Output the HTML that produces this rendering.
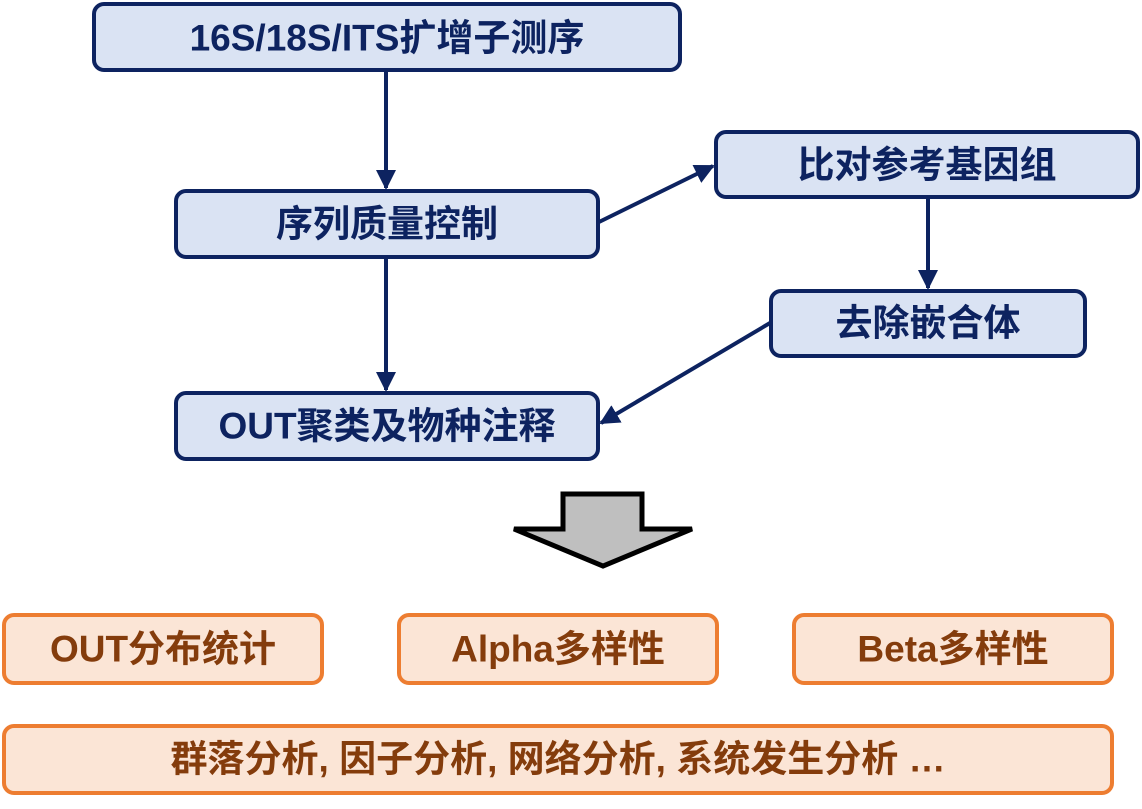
<!DOCTYPE html>
<html><head><meta charset="utf-8"><style>
body{margin:0;background:#fff}
svg text{font-family:"Liberation Sans","Noto Sans CJK SC",sans-serif;font-weight:bold;text-anchor:middle;dominant-baseline:central}
</style></head><body>
<svg width="1142" height="804" viewBox="0 0 1142 804" xmlns="http://www.w3.org/2000/svg">
<defs><marker id="a" viewBox="0 0 10 10" refX="9" refY="5" markerWidth="5" markerHeight="5" orient="auto-start-reverse"><path d="M0,0L10,5L0,10z" fill="#0d2360"/></marker></defs>
<g fill="#dae3f3" stroke="#0d2360" stroke-width="4">
<rect x="94" y="4" width="586" height="66" rx="10"/>
<rect x="176" y="191" width="422" height="66" rx="10"/>
<rect x="716" y="132" width="422" height="65" rx="10"/>
<rect x="771" y="291" width="314" height="65" rx="10"/>
<rect x="176" y="393" width="422" height="66" rx="10"/>
</g>
<g stroke="#0d2360" stroke-width="4" fill="none" marker-end="url(#a)">
<line x1="386" y1="70" x2="386" y2="188"/>
<line x1="386" y1="257" x2="386" y2="390"/>
<line x1="599" y1="222" x2="713" y2="166"/>
<line x1="928" y1="197" x2="928" y2="288"/>
<line x1="770" y1="323" x2="601" y2="423"/>
</g>
<g fill="#0d2360" font-size="37">
<text x="387" y="38">16S/18S/ITS扩增子测序</text>
<text x="387" y="224">序列质量控制</text>
<text x="927" y="165">比对参考基因组</text>
<text x="928" y="323">去除嵌合体</text>
<text x="387" y="426">OUT聚类及物种注释</text>
</g>
<path d="M563,494H642V529H692L603,566L514,529H563Z" fill="#bfbfbf" stroke="#000" stroke-width="5"/>
<g fill="#fbe5d6" stroke="#ed7d31" stroke-width="4">
<rect x="4" y="615" width="318" height="68" rx="10"/>
<rect x="399" y="615" width="318" height="68" rx="10"/>
<rect x="794" y="615" width="318" height="68" rx="10"/>
<rect x="4" y="726" width="1108" height="67" rx="10"/>
</g>
<g fill="#843c0c" font-size="37">
<text x="163" y="649">OUT分布统计</text>
<text x="558" y="649">Alpha多样性</text>
<text x="953" y="649">Beta多样性</text>
<text x="558" y="759">群落分析, 因子分析, 网络分析, 系统发生分析 …</text>
</g>
</svg>
</body></html>
